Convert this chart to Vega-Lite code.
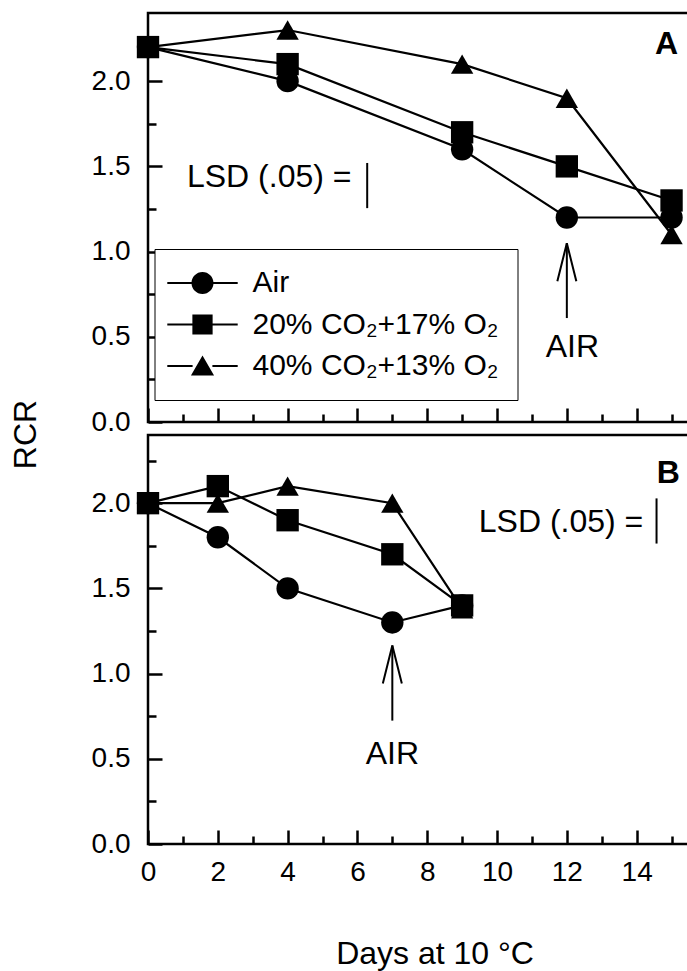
{
  "$schema": "https://vega.github.io/schema/vega-lite/v6.json",
  "background": "white",
  "padding": {"left": 8, "top": 11, "right": 0, "bottom": 0},
  "config": {
    "view": {"stroke": "black", "strokeWidth": 2.5},
    "font": "Liberation Sans",
    "axis": {"grid": false, "domain": false, "labelColor": "black", "titleColor": "black", "tickColor": "black", "labelFont": "Liberation Sans", "titleFont": "Liberation Sans", "labelFlush": false, "labelOverlap": false}
  },
  "datasets": {
    "main": [
      {"panel": "A", "series": "Air", "day": 0, "rcr": 2.2},
      {"panel": "A", "series": "Air", "day": 4, "rcr": 2.0},
      {"panel": "A", "series": "Air", "day": 9, "rcr": 1.6},
      {"panel": "A", "series": "Air", "day": 12, "rcr": 1.2},
      {"panel": "A", "series": "Air", "day": 15, "rcr": 1.2},
      {"panel": "A", "series": "20% CO₂+17% O₂", "day": 0, "rcr": 2.2},
      {"panel": "A", "series": "20% CO₂+17% O₂", "day": 4, "rcr": 2.1},
      {"panel": "A", "series": "20% CO₂+17% O₂", "day": 9, "rcr": 1.7},
      {"panel": "A", "series": "20% CO₂+17% O₂", "day": 12, "rcr": 1.5},
      {"panel": "A", "series": "20% CO₂+17% O₂", "day": 15, "rcr": 1.3},
      {"panel": "A", "series": "40% CO₂+13% O₂", "day": 0, "rcr": 2.2},
      {"panel": "A", "series": "40% CO₂+13% O₂", "day": 4, "rcr": 2.3},
      {"panel": "A", "series": "40% CO₂+13% O₂", "day": 9, "rcr": 2.1},
      {"panel": "A", "series": "40% CO₂+13% O₂", "day": 12, "rcr": 1.9},
      {"panel": "A", "series": "40% CO₂+13% O₂", "day": 15, "rcr": 1.1},
      {"panel": "B", "series": "Air", "day": 0, "rcr": 2.0},
      {"panel": "B", "series": "Air", "day": 2, "rcr": 1.8},
      {"panel": "B", "series": "Air", "day": 4, "rcr": 1.5},
      {"panel": "B", "series": "Air", "day": 7, "rcr": 1.3},
      {"panel": "B", "series": "Air", "day": 9, "rcr": 1.4},
      {"panel": "B", "series": "20% CO₂+17% O₂", "day": 0, "rcr": 2.0},
      {"panel": "B", "series": "20% CO₂+17% O₂", "day": 2, "rcr": 2.1},
      {"panel": "B", "series": "20% CO₂+17% O₂", "day": 4, "rcr": 1.9},
      {"panel": "B", "series": "20% CO₂+17% O₂", "day": 7, "rcr": 1.7},
      {"panel": "B", "series": "20% CO₂+17% O₂", "day": 9, "rcr": 1.4},
      {"panel": "B", "series": "40% CO₂+13% O₂", "day": 0, "rcr": 2.0},
      {"panel": "B", "series": "40% CO₂+13% O₂", "day": 2, "rcr": 2.0},
      {"panel": "B", "series": "40% CO₂+13% O₂", "day": 4, "rcr": 2.1},
      {"panel": "B", "series": "40% CO₂+13% O₂", "day": 7, "rcr": 2.0},
      {"panel": "B", "series": "40% CO₂+13% O₂", "day": 9, "rcr": 1.38}
    ]
  },
  "spacing": 13,
  "bounds": "flush",
  "resolve": {"scale": {"shape": "independent"}, "legend": {"shape": "independent"}},
  "vconcat": [
    {
      "width": 541,
      "height": 409,
      "resolve": {"axis": {"x": "independent", "y": "independent"}, "scale": {"shape": "independent"}, "legend": {"shape": "independent"}},
      "layer": [
        {
          "data": {"name": "main"},
          "transform": [{"filter": "datum.panel === 'A'"}],
          "mark": {"type": "line", "color": "black", "strokeWidth": 2.2},
          "encoding": {
            "x": {"field": "day", "type": "quantitative", "scale": {"domain": [0, 15.5], "nice": false, "zero": false}, "axis": null},
            "y": {"field": "rcr", "type": "quantitative", "scale": {"domain": [0, 2.4], "nice": false}, "axis": {"orient": "left", "values": [0, 0.5, 1, 1.5, 2], "format": ".1f", "ticks": false, "labelFontSize": 28, "labelPadding": 18, "title": "RCR", "titleFontSize": 32, "titleFontWeight": "normal", "titleAngle": 270, "titleX": -122.5, "titleY": 421, "titleAlign": "center", "titleBaseline": "middle"}},
            "detail": {"field": "series"}
          }
        },
        {
          "data": {"name": "main"},
          "transform": [{"filter": "datum.panel === 'A'"}],
          "mark": {"type": "point", "filled": true, "color": "black", "opacity": 1, "size": 500},
          "encoding": {
            "x": {"field": "day", "type": "quantitative", "scale": {"domain": [0, 15.5], "nice": false, "zero": false}, "axis": {"orient": "bottom", "values": [0, 2, 4, 6, 8, 10, 12, 14], "labels": false, "tickSize": -14, "tickWidth": 2.5, "title": null}},
            "y": {"field": "rcr", "type": "quantitative", "scale": {"domain": [0, 2.4], "nice": false}, "axis": {"orient": "left", "values": [0, 0.5, 1, 1.5, 2], "labels": false, "tickSize": -14, "tickWidth": 2.5, "title": null}},
            "shape": {
              "field": "series", "type": "nominal",
              "scale": {"domain": ["Air", "20% CO₂+17% O₂", "40% CO₂+13% O₂"], "range": ["circle", "square", "triangle-up"]},
              "legend": null
            }
          }
        },
        {
          "data": {"name": "main"},
          "transform": [{"filter": "datum.panel === 'A'"}],
          "mark": {"type": "point", "filled": true, "color": "black", "opacity": 0, "size": 10},
          "encoding": {
            "x": {"field": "day", "type": "quantitative", "scale": {"domain": [0, 15.5], "nice": false, "zero": false}, "axis": null},
            "y": {"field": "rcr", "type": "quantitative", "scale": {"domain": [0, 2.4], "nice": false}, "axis": null},
            "shape": {
              "field": "series", "type": "nominal",
              "scale": {"domain": ["Air", "20% CO₂+17% O₂", "40% CO₂+13% O₂"], "range": [
                "M-3.2,-0.09H-0.9V0.09H-3.2ZM0.9,-0.09H3.2V0.09H0.9ZM1,0A1,1,0,1,1,-1,0A1,1,0,1,1,1,0Z",
                "M-3.2,-0.09H-0.9V0.09H-3.2ZM0.9,-0.09H3.2V0.09H0.9ZM-0.92,-0.92H0.92V0.92H-0.92Z",
                "M-3.2,-0.09H-0.9V0.09H-3.2ZM0.9,-0.09H3.2V0.09H0.9ZM0,-0.95L1.05,0.87H-1.05Z"
              ]},
              "legend": {
                "title": null, "orient": "none", "legendX": 6.5, "legendY": 236,
                "strokeColor": "black", "padding": 19, "fillColor": "white",
                "labelFontSize": 30, "labelFont": "Liberation Sans", "labelColor": "black", "labelLimit": 0,
                "symbolSize": 484, "symbolOffset": 14, "labelOffset": 35, "rowPadding": 11.5,
                "symbolOpacity": 1, "symbolFillColor": "black", "symbolStrokeColor": "black", "symbolStrokeWidth": 1
              }
            }
          }
        },
        {
          "data": {"values": [{"x": 12.16, "y": 0.382, "text": "AIR"}]},
          "mark": {"type": "text", "fontSize": 32, "font": "Liberation Sans", "color": "black", "align": "center", "baseline": "alphabetic"},
          "encoding": {
            "x": {"field": "x", "type": "quantitative", "scale": {"domain": [0, 15.5], "nice": false, "zero": false}, "axis": {"orient": "bottom", "values": [1, 3, 5, 7, 9, 11, 13, 15], "labels": false, "tickSize": -8, "tickWidth": 2.5, "title": null}},
            "y": {"field": "y", "type": "quantitative", "scale": {"domain": [0, 2.4], "nice": false}, "axis": {"orient": "left", "values": [0.25, 0.75, 1.25, 1.75, 2.25], "labels": false, "tickSize": -8, "tickWidth": 2.5, "title": null}},
            "text": {"field": "text"}
          }
        },
        {
          "data": {"values": [{"x": 12, "tip": 1.049, "tail": 0.61}]},
          "mark": {"type": "rule", "color": "black", "strokeWidth": 2},
          "encoding": {
            "x": {"field": "x", "type": "quantitative", "scale": {"domain": [0, 15.5], "nice": false, "zero": false}, "axis": null},
            "y": {"field": "tail", "type": "quantitative", "scale": {"domain": [0, 2.4], "nice": false}, "axis": null},
            "y2": {"field": "tip"}
          }
        },
        {
          "data": {"values": [{"x": 12, "tip": 1.049}]},
          "mark": {"type": "point", "shape": "M-0.25,1L0,0L0.25,1", "filled": false, "stroke": "black", "strokeWidth": 2, "size": 5776, "opacity": 1},
          "encoding": {
            "x": {"field": "x", "type": "quantitative", "scale": {"domain": [0, 15.5], "nice": false, "zero": false}, "axis": null},
            "y": {"field": "tip", "type": "quantitative", "scale": {"domain": [0, 2.4], "nice": false}, "axis": null}
          }
        },
        {
          "data": {"values": [{"x": 6.28, "lo": 1.255, "hi": 1.52}]},
          "mark": {"type": "rule", "color": "black", "strokeWidth": 2},
          "encoding": {
            "x": {"field": "x", "type": "quantitative", "scale": {"domain": [0, 15.5], "nice": false, "zero": false}, "axis": null},
            "y": {"field": "lo", "type": "quantitative", "scale": {"domain": [0, 2.4], "nice": false}, "axis": null},
            "y2": {"field": "hi"}
          }
        },
        {
          "data": {"values": [{"x": 5.83, "y": 1.38, "text": "LSD (.05) ="}]},
          "mark": {"type": "text", "fontSize": 32, "font": "Liberation Sans", "color": "black", "align": "right", "baseline": "alphabetic"},
          "encoding": {
            "x": {"field": "x", "type": "quantitative", "scale": {"domain": [0, 15.5], "nice": false, "zero": false}, "axis": null},
            "y": {"field": "y", "type": "quantitative", "scale": {"domain": [0, 2.4], "nice": false}, "axis": null},
            "text": {"field": "text"}
          }
        },
        {
          "data": {"values": [{"x": 14.86, "y": 2.157, "text": "A"}]},
          "mark": {"type": "text", "fontSize": 32, "fontWeight": "bold", "font": "Liberation Sans", "color": "black", "align": "center", "baseline": "alphabetic"},
          "encoding": {
            "x": {"field": "x", "type": "quantitative", "scale": {"domain": [0, 15.5], "nice": false, "zero": false}, "axis": null},
            "y": {"field": "y", "type": "quantitative", "scale": {"domain": [0, 2.4], "nice": false}, "axis": null},
            "text": {"field": "text"}
          }
        }
      ]
    },
    {
      "width": 541,
      "height": 409,
      "resolve": {"axis": {"x": "independent", "y": "independent"}},
      "layer": [
        {
          "data": {"name": "main"},
          "transform": [{"filter": "datum.panel === 'B'"}],
          "mark": {"type": "line", "color": "black", "strokeWidth": 2.2},
          "encoding": {
            "x": {"field": "day", "type": "quantitative", "scale": {"domain": [0, 15.5], "nice": false, "zero": false}, "axis": {"orient": "bottom", "values": [0, 2, 4, 6, 8, 10, 12, 14], "format": "d", "ticks": false, "labelFontSize": 28, "labelPadding": 14, "title": "Days at 10 °C", "titleFontSize": 32, "titleFontWeight": "normal", "titlePadding": 52, "titleX": 286.5, "titleAlign": "center"}},
            "y": {"field": "rcr", "type": "quantitative", "scale": {"domain": [0, 2.4], "nice": false}, "axis": {"orient": "left", "values": [0, 0.5, 1, 1.5, 2], "format": ".1f", "ticks": false, "labelFontSize": 28, "labelPadding": 18, "title": null}},
            "detail": {"field": "series"}
          }
        },
        {
          "data": {"name": "main"},
          "transform": [{"filter": "datum.panel === 'B'"}],
          "mark": {"type": "point", "filled": true, "color": "black", "opacity": 1, "size": 500},
          "encoding": {
            "x": {"field": "day", "type": "quantitative", "scale": {"domain": [0, 15.5], "nice": false, "zero": false}, "axis": {"orient": "bottom", "values": [0, 2, 4, 6, 8, 10, 12, 14], "labels": false, "tickSize": -14, "tickWidth": 2.5, "title": null}},
            "y": {"field": "rcr", "type": "quantitative", "scale": {"domain": [0, 2.4], "nice": false}, "axis": {"orient": "left", "values": [0, 0.5, 1, 1.5, 2], "labels": false, "tickSize": -14, "tickWidth": 2.5, "title": null}},
            "shape": {
              "field": "series", "type": "nominal",
              "scale": {"domain": ["Air", "20% CO₂+17% O₂", "40% CO₂+13% O₂"], "range": ["circle", "square", "triangle-up"]},
              "legend": null
            }
          }
        },
        {
          "data": {"values": [{"x": 7.0, "y": 0.47, "text": "AIR"}]},
          "mark": {"type": "text", "fontSize": 32, "font": "Liberation Sans", "color": "black", "align": "center", "baseline": "alphabetic"},
          "encoding": {
            "x": {"field": "x", "type": "quantitative", "scale": {"domain": [0, 15.5], "nice": false, "zero": false}, "axis": {"orient": "bottom", "values": [1, 3, 5, 7, 9, 11, 13, 15], "labels": false, "tickSize": -8, "tickWidth": 2.5, "title": null}},
            "y": {"field": "y", "type": "quantitative", "scale": {"domain": [0, 2.4], "nice": false}, "axis": {"orient": "left", "values": [0.25, 0.75, 1.25, 1.75, 2.25], "labels": false, "tickSize": -8, "tickWidth": 2.5, "title": null}},
            "text": {"field": "text"}
          }
        },
        {
          "data": {"values": [{"x": 7, "tip": 1.165, "tail": 0.724}]},
          "mark": {"type": "rule", "color": "black", "strokeWidth": 2},
          "encoding": {
            "x": {"field": "x", "type": "quantitative", "scale": {"domain": [0, 15.5], "nice": false, "zero": false}, "axis": null},
            "y": {"field": "tail", "type": "quantitative", "scale": {"domain": [0, 2.4], "nice": false}, "axis": null},
            "y2": {"field": "tip"}
          }
        },
        {
          "data": {"values": [{"x": 7, "tip": 1.165}]},
          "mark": {"type": "point", "shape": "M-0.25,1L0,0L0.25,1", "filled": false, "stroke": "black", "strokeWidth": 2, "size": 5776, "opacity": 1},
          "encoding": {
            "x": {"field": "x", "type": "quantitative", "scale": {"domain": [0, 15.5], "nice": false, "zero": false}, "axis": null},
            "y": {"field": "tip", "type": "quantitative", "scale": {"domain": [0, 2.4], "nice": false}, "axis": null}
          }
        },
        {
          "data": {"values": [{"x": 14.57, "lo": 1.763, "hi": 2.028}]},
          "mark": {"type": "rule", "color": "black", "strokeWidth": 2},
          "encoding": {
            "x": {"field": "x", "type": "quantitative", "scale": {"domain": [0, 15.5], "nice": false, "zero": false}, "axis": null},
            "y": {"field": "lo", "type": "quantitative", "scale": {"domain": [0, 2.4], "nice": false}, "axis": null},
            "y2": {"field": "hi"}
          }
        },
        {
          "data": {"values": [{"x": 14.19, "y": 1.83, "text": "LSD (.05) ="}]},
          "mark": {"type": "text", "fontSize": 32, "font": "Liberation Sans", "color": "black", "align": "right", "baseline": "alphabetic"},
          "encoding": {
            "x": {"field": "x", "type": "quantitative", "scale": {"domain": [0, 15.5], "nice": false, "zero": false}, "axis": null},
            "y": {"field": "y", "type": "quantitative", "scale": {"domain": [0, 2.4], "nice": false}, "axis": null},
            "text": {"field": "text"}
          }
        },
        {
          "data": {"values": [{"x": 14.91, "y": 2.116, "text": "B"}]},
          "mark": {"type": "text", "fontSize": 32, "fontWeight": "bold", "font": "Liberation Sans", "color": "black", "align": "center", "baseline": "alphabetic"},
          "encoding": {
            "x": {"field": "x", "type": "quantitative", "scale": {"domain": [0, 15.5], "nice": false, "zero": false}, "axis": null},
            "y": {"field": "y", "type": "quantitative", "scale": {"domain": [0, 2.4], "nice": false}, "axis": null},
            "text": {"field": "text"}
          }
        }
      ]
    }
  ]
}
